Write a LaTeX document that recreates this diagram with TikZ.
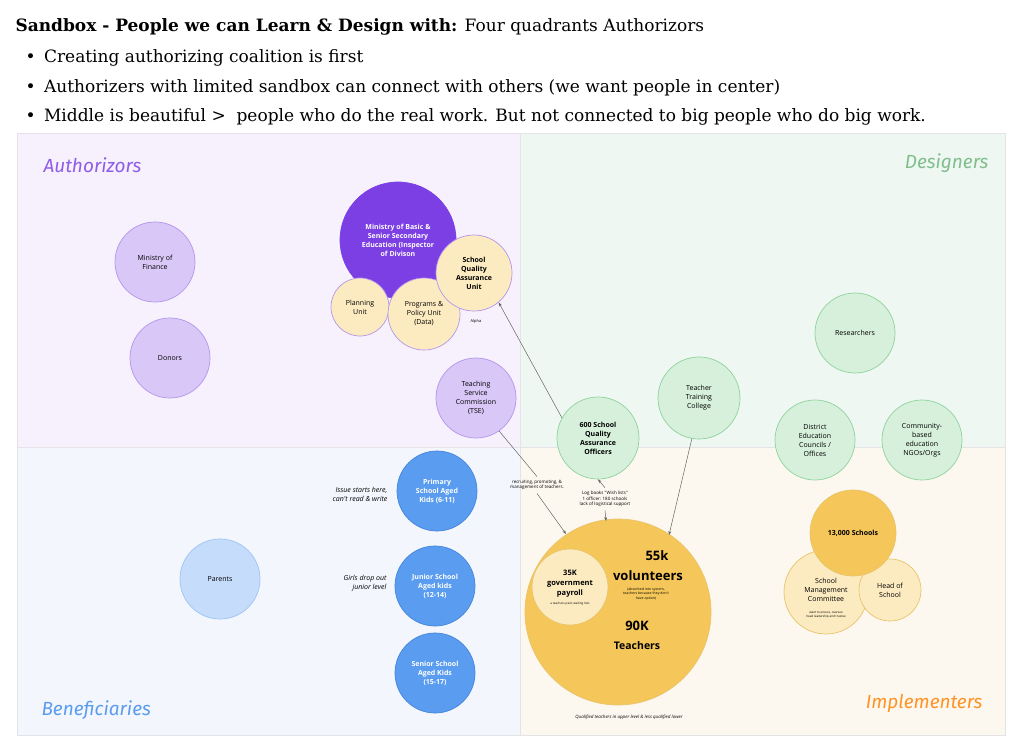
\documentclass[tikz,border=0pt]{standalone}
\usepackage{fontspec}
\setmainfont{DejaVu Serif}
\newfontfamily\cfont{Open Sans}
\newfontfamily\hfont{Fira Sans}
\usetikzlibrary{arrows.meta}
\definecolor{qpur}{HTML}{F6F1FD}
\definecolor{qgrn}{HTML}{EEF7F1}
\definecolor{qblu}{HTML}{F3F6FC}
\definecolor{qyel}{HTML}{FDF8EF}
\definecolor{lpur}{HTML}{D9C7F7}
\definecolor{bpur}{HTML}{B495EC}
\definecolor{dpur}{HTML}{7B3FE4}
\definecolor{lyel}{HTML}{FCEBC0}
\definecolor{byel}{HTML}{E8C46A}
\definecolor{yel}{HTML}{F5C659}
\definecolor{lgrn}{HTML}{D6F0DB}
\definecolor{bgrn}{HTML}{8FD39C}
\definecolor{blu}{HTML}{5A9CF0}
\definecolor{bblu}{HTML}{4585DA}
\definecolor{lblu}{HTML}{C6DCFB}
\definecolor{bordr}{HTML}{E4E4E8}
\begin{document}
\begin{tikzpicture}[x=1pt,y=-1pt,
  c/.style={circle,draw,line width=0.7pt,inner sep=0pt,minimum size=#1,align=center,font=\cfont\fontsize{7}{9}\selectfont},
  pc/.style={c=#1,fill=lpur,draw=bpur},
  yc/.style={c=#1,fill=lyel,draw=bpur},
  gc/.style={c=#1,fill=lgrn,draw=bgrn},
  bc/.style={c=#1,fill=blu,draw=bblu,text=white,font=\cfont\bfseries\fontsize{7}{9}\selectfont},
  oc/.style={c=#1,fill=yel,draw=byel},
  lc/.style={c=#1,fill=lyel,draw=byel},
  q/.style={draw=bordr,line width=0.5pt},
  ql/.style={font=\hfont\itshape\fontsize{19}{22}\selectfont},
  hd/.style={anchor=west,font=\fontsize{17}{20}\selectfont},
  tiny/.style={font=\cfont\fontsize{4}{5}\selectfont,align=center},
  ar/.style={-{Stealth[length=4pt]},draw=gray!80!black,line width=0.5pt}]
\useasboundingbox (0,0) rectangle (1024,751);
\fill[white] (0,0) rectangle (1024,751);
% header
\node[hd] (title) at (12,27) {\textbf{Sandbox - People we can Learn \& Design with:} Four quadrants Authorizors};
\node[hd] (b1) at (22,58) {•\enspace Creating authorizing coalition is first};
\node[hd] (b2) at (22,88) {•\enspace Authorizers with limited sandbox can connect with others (we want people in center)};
\node[hd] (b3) at (22,117) {•\enspace Middle is beautiful >\ \ people who do the real work. But not connected to big people who do big work.};
% quadrants
\filldraw[q,fill=qpur] (17,133) rectangle (520,447);
\filldraw[q,fill=qgrn] (520,133) rectangle (1005,447);
\filldraw[q,fill=qblu] (17,447) rectangle (520,735);
\filldraw[q,fill=qyel] (520,447) rectangle (1005,735);
\node[ql,text=dpur!85,anchor=west] (qa) at (40,165) {Authorizors};
\node[ql,text=bgrn!90!black,anchor=east] (qd) at (992,163) {Designers};
\node[ql,text=blu,anchor=west] (qb) at (38,710) {Beneficiaries};
\node[ql,text=orange!85,anchor=east] (qi) at (986,703) {Implementers};
% authorizors
\node[pc=80pt] (mof) at (155,262) {Ministry of\\Finance};
\node[pc=80pt] (don) at (170,358) {Donors};
\node[c=116pt,fill=dpur,draw=dpur,text=white,font=\cfont\bfseries\fontsize{7}{9}\selectfont] (mbs) at (398,240) {Ministry of Basic \&\\Senior Secondary\\Education (Inspector\\of Divison};
\node[yc=58pt] (plan) at (360,307) {Planning\\Unit};
\node[yc=72pt] (prog) at (424,314) {Programs \&\\Policy Unit\\(Data)};
\node[yc=76pt,font=\cfont\bfseries\fontsize{7}{9}\selectfont] (sqau) at (474,273) {School\\Quality\\Assurance\\Unit};
\node[tiny] (alpha) at (476,321) {Alpha};
\node[pc=80pt] (tsc) at (476,398) {Teaching\\Service\\Commission\\(TSE)};
% designers
\node[gc=82pt,font=\cfont\bfseries\fontsize{7}{9}\selectfont] (sqao) at (598,438) {600 School\\Quality\\Assurance\\Officers};
\node[gc=82pt] (ttc) at (699,398) {Teacher\\Training\\College};
\node[gc=80pt] (res) at (855,333) {Researchers};
\node[gc=80pt] (dec) at (815,440) {District\\Education\\Councils /\\Offices};
\node[gc=80pt] (cbe) at (922,440) {Community-\\based\\education\\NGOs/Orgs};
% beneficiaries
\node[bc=80pt] (pri) at (437,491) {Primary\\School Aged\\Kids (6-11)};
\node[bc=80pt] (jun) at (435,586) {Junior School\\Aged kids\\(12-14)};
\node[bc=80pt] (sen) at (435,673) {Senior School\\Aged Kids\\(15-17)};
\node[c=80pt,fill=lblu,draw=blu!60] (par) at (220,579) {Parents};
\node[font=\cfont\itshape\fontsize{7}{9}\selectfont,align=right,anchor=east] (iss) at (391,494) {Issue starts here,\\can't read \& write};
\node[font=\cfont\itshape\fontsize{7}{9}\selectfont,align=right,anchor=east] (gdo) at (390,583) {Girls drop out\\junior level};
% implementers
\node[oc=186pt] (big) at (618,612) {};
\node[font=\cfont\bfseries\fontsize{13}{15}\selectfont] (k55) at (657,556) {55k};
\node[font=\cfont\bfseries\fontsize{13}{15}\selectfont] (vol) at (648,576) {volunteers};
\node[tiny,font=\cfont\fontsize{3.5}{4.5}\selectfont] (volt) at (646,594) {(absorbed into system,\\teachers because they don't\\have option)};
\node[font=\cfont\bfseries\fontsize{13}{15}\selectfont] (k90) at (637,626) {90K};
\node[font=\cfont\bfseries\fontsize{10.5}{12}\selectfont] (tch) at (637,646) {Teachers};
\node[lc=76pt] (k35) at (570,587) {};
\node[font=\cfont\bfseries\fontsize{7.5}{10}\selectfont,align=center] (k35t) at (570,584) {35K\\government\\payroll};
\node[tiny,font=\cfont\fontsize{3}{4}\selectfont] (k35s) at (570,604) {a teachers paid, waiting lists};
\node[tiny,font=\cfont\itshape\fontsize{4.5}{5}\selectfont] (qual) at (629,717) {Qualified teachers in upper level \& less qualified lower};
\node[lc=84pt] (smc) at (826,592) {};
\node[font=\cfont\fontsize{7}{9}\selectfont,align=center] (smct) at (826,590) {School\\Management\\Committee};
\node[tiny,font=\cfont\fontsize{3}{4}\selectfont] (smcs) at (826,615) {want to ensure, oversee\\head leadership and trustee};
\node[lc=62pt] (hos) at (890,590) {Head of\\School};
\node[oc=86pt,font=\cfont\bfseries\fontsize{7}{9}\selectfont] (sch) at (853,533) {13,000 Schools};
% connectors
\node[tiny,font=\cfont\fontsize{4.5}{5.5}\selectfont] (rec) at (537,485) {recruiting, promoting, \&\\management of teachers.};
\node[tiny,font=\cfont\fontsize{4.5}{5.5}\selectfont] (log) at (605,499) {Log books "Wish lists"\\1 officer: 180 schools\\lack of logistical support};
\coordinate (ttcend) at (669,535);
\coordinate (bigtop1) at (566,534);
\coordinate (bigtop2) at (606,521);
\coordinate (sqs) at (562,418);
\draw[gray!80!black,line width=0.5pt] (tsc.-55) -- (rec.north);
\draw[ar] (rec.south) -- (bigtop1);
\draw[ar] (log.north) -- (sqao.south);
\draw[ar] (log.south) -- (bigtop2);
\draw[ar] (ttc.-100) -- (ttcend);
\draw[ar] (sqs) -- (sqau.-50);
\end{tikzpicture}
\end{document}
